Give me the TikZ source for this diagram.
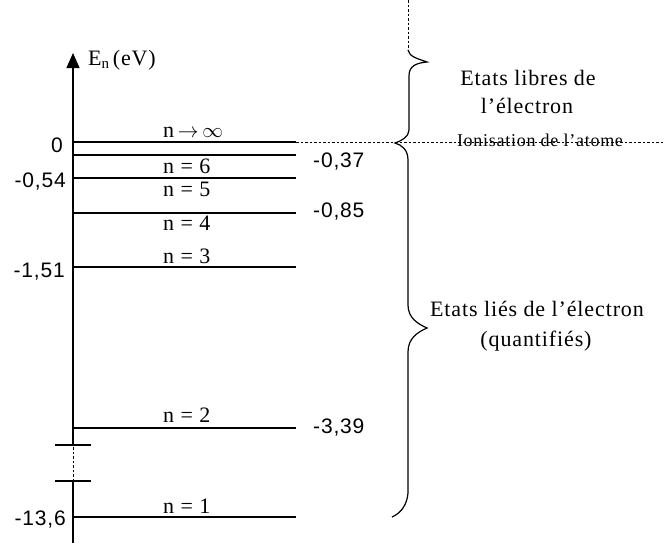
\documentclass[tikz,border=0pt]{standalone}
\usepackage{fontspec}
\setmainfont[LetterSpace=4]{Liberation Serif}
\newfontfamily\numfont[LetterSpace=4]{Liberation Sans}
\usetikzlibrary{arrows.meta}
\tikzset{
  levelline/.style={line width=1.2pt},
  dotline/.style={line width=1pt, dash pattern=on 2.5pt off 2pt},
  lab/.style={font=\fontsize{22}{26}\selectfont, inner sep=0pt},
  smalllab/.style={font=\fontsize{18}{22}\selectfont, inner sep=0pt},
  num/.style={font=\numfont\fontsize{21}{24}\selectfont, inner sep=0pt},
  bracestyle/.style={line width=1.2pt},
}
\begin{document}
\begin{tikzpicture}[x=1pt,y=-1pt]
\useasboundingbox (0,0) rectangle (665,544);
% axis
\coordinate (ax0) at (73,543);
\coordinate (axb1) at (73,481);
\coordinate (axb2) at (73,445);
\coordinate (axtop) at (73,53);
\draw[levelline] (ax0) -- (axb1);
\draw[dotline] (axb1) -- (axb2);
\draw[levelline, -{Triangle[width=13pt,length=15pt]}] (axb2) -- (axtop);
% break ticks
\coordinate (t1a) at (55,445); \coordinate (t1b) at (91,445);
\coordinate (t2a) at (55,481); \coordinate (t2b) at (91,481);
\draw[levelline] (t1a) -- (t1b);
\draw[levelline] (t2a) -- (t2b);
% levels
\foreach \yy/\nm in {142/inf,155/six,178/five,213/four,267/three,428/two,517/one}{
  \coordinate (\nm-l) at (73,\yy);
  \coordinate (\nm-r) at (296,\yy);
  \draw[levelline] (\nm-l) -- (\nm-r);
}
\coordinate (dotend) at (665,142);
\draw[dotline] (inf-r) -- (dotend);
% axis label
\node[lab, anchor=base west] (axlab) at (88,65) {E\raisebox{-3pt}{\fontsize{15}{17}\selectfont n}\,(eV)};
% level labels
\node[lab, anchor=base west] (linf) at (163,137) {n\,$\rightarrow$\,$\infty$};
\node[lab, anchor=base west] (l6) at (163,173) {n = 6};
\node[lab, anchor=base west] (l5) at (163,196) {n = 5};
\node[lab, anchor=base west] (l4) at (163,230) {n = 4};
\node[lab, anchor=base west] (l3) at (163,263) {n = 3};
\node[lab, anchor=base west] (l2) at (163,422) {n = 2};
\node[lab, anchor=base west] (l1) at (163,513) {n = 1};
% left values
\node[num, anchor=base east] (v0) at (63,152) {0};
\node[num, anchor=base east] (v054) at (66,187) {-0,54};
\node[num, anchor=base east] (v151) at (65,277) {-1,51};
\node[num, anchor=base east] (v136) at (66,525) {-13,6};
% right values
\node[num, anchor=base west] (v037) at (313,167) {-0,37};
\node[num, anchor=base west] (v085) at (313,217) {-0,85};
\node[num, anchor=base west] (v339) at (313,433) {-3,39};
% braces
\coordinate (bt0) at (408,0);
\coordinate (bt1) at (408,50);
\draw[dotline] (bt0) -- (bt1);
\draw[bracestyle] (bt1) .. controls (409,57) and (419,59) .. (427,62)
  .. controls (416,63) and (409,66) .. (409,76) -- (409,130)
  .. controls (409,137) and (401,141) .. (395,143)
  .. controls (402,145) and (408,150) .. (408,160) -- (408,305)
  .. controls (408,318) and (418,324) .. (427,328)
  .. controls (418,332) and (408,338) .. (408,352) -- (408,493)
  .. controls (407,505) and (401,513) .. (392,517);
% right texts
\node[lab, anchor=base] (libres1) at (528,85) {Etats libres de};
\node[lab, anchor=base] (libres2) at (527,113) {l’électron};
\node[smalllab, anchor=base] (ionis) at (540,146) {Ionisation de l’atome};
\node[lab, anchor=base] (lies1) at (537,316) {Etats liés de l’électron};
\node[lab, anchor=base] (lies2) at (536,346) {(quantifiés)};
\end{tikzpicture}
\end{document}
